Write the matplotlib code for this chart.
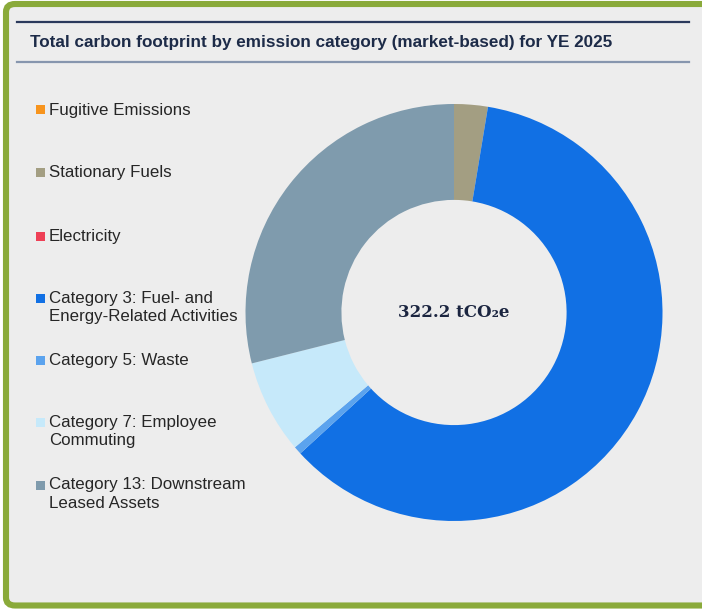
import matplotlib
matplotlib.use("Agg")
import matplotlib.pyplot as plt
from matplotlib.patches import FancyBboxPatch, Rectangle
from matplotlib.lines import Line2D

W, H = 702, 609

categories = [
    "Fugitive Emissions",
    "Stationary Fuels",
    "Electricity",
    "Category 3: Fuel- and\nEnergy-Related Activities",
    "Category 5: Waste",
    "Category 7: Employee\nCommuting",
    "Category 13: Downstream\nLeased Assets",
]
emissions = [0.0, 8.4, 0.0, 195.2, 2.0, 23.4, 93.2]
colors = ["#F7941D", "#A39E82", "#EE4056", "#1170E4", "#5BA3EE", "#C6E9FA", "#7F9BAD"]
total_label = "322.2 tCO₂e"
title = "Total carbon footprint by emission category (market-based) for YE 2025"

fig = plt.figure(figsize=(W / 100, H / 100), dpi=100)
fig.patch.set_facecolor("white")


def fx(px):
    return px / W


def fy(py):
    return 1 - py / H


# panel background with green rounded frame (right side runs past the edge)
frame = FancyBboxPatch((fx(6), fy(605.5)), fx(716) - fx(6), fy(4) - fy(605.5),
                       boxstyle="round,pad=0,rounding_size=0.013",
                       transform=fig.transFigure, facecolor="#EDEDED",
                       edgecolor="#8AAA3A", linewidth=4.4, zorder=-10)
fig.patches.append(frame)

# title rules
fig.add_artist(Line2D([fx(17), fx(689)], [fy(22), fy(22)], transform=fig.transFigure,
                      color="#2B3A5C", linewidth=1.6))
fig.add_artist(Line2D([fx(17), fx(689)], [fy(62), fy(62)], transform=fig.transFigure,
                      color="#8796AE", linewidth=1.6))
fig.text(fx(30), fy(42), title, fontsize=12.35, fontweight="bold", color="#1D2B48",
         family="Liberation Sans", va="center", ha="left")

# donut
cx, cy, r = 454, 312.5, 208.5
ax = fig.add_axes([fx(cx - r), fy(cy + r), 2 * r / W, 2 * r / H])
ax.pie(emissions, colors=colors, startangle=90, counterclock=False, radius=1,
       wedgeprops=dict(width=0.46, linewidth=0))
ax.set_xlim(-1, 1)
ax.set_ylim(-1, 1)
ax.set_aspect("auto")
ax.axis("off")
ax.text(0, 0, total_label, ha="center", va="center", fontsize=12,
        fontweight="bold", color="#1B2540", family="DejaVu Serif")

# legend
first_rows = [110, 173, 236, 298, 360, 422, 485]
for name, col, ty in zip(categories, colors, first_rows):
    fig.patches.append(Rectangle((fx(36), fy(ty + 4.5)), 9 / W, 9 / H,
                                 transform=fig.transFigure, facecolor=col,
                                 edgecolor="none"))
    for i, line in enumerate(name.split("\n")):
        fig.text(fx(49), fy(ty + 19 * i), line, fontsize=12.2, color="#262626",
                 family="Liberation Sans", va="center", ha="left")

fig.savefig("out.png", dpi=100, facecolor=fig.get_facecolor())
